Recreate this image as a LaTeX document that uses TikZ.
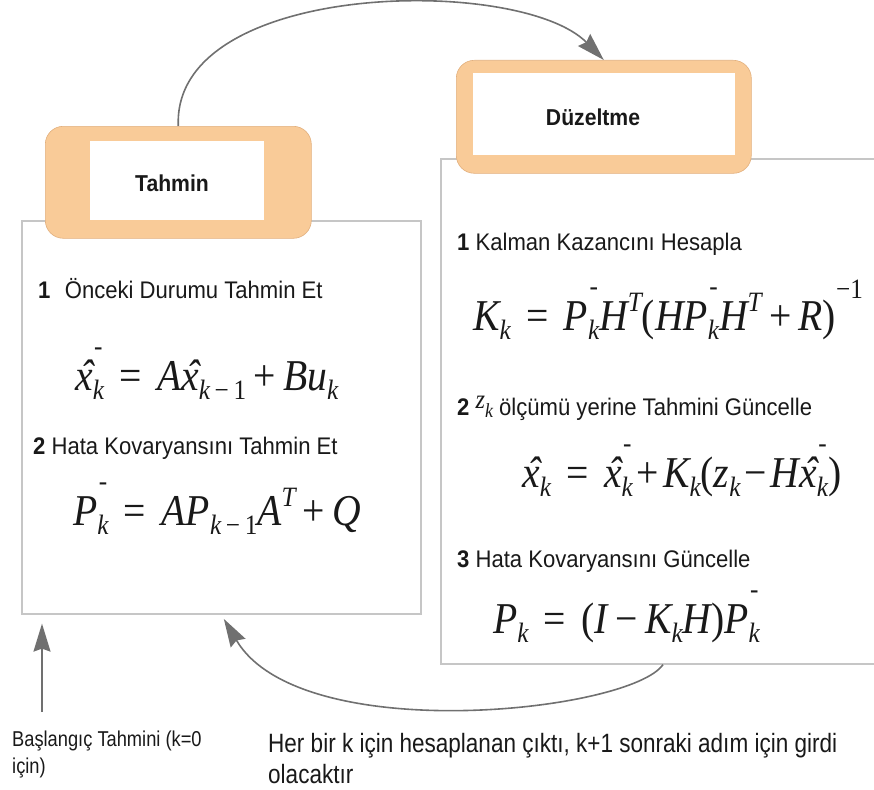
\documentclass[tikz,border=0pt]{standalone}
\usepackage{fontspec}
\setmainfont{Liberation Sans}[FakeStretch=0.92]
\newfontfamily\eqf{Liberation Serif}[FakeStretch=0.9]
\newfontfamily\notef{Liberation Sans}[FakeStretch=0.85]
\usetikzlibrary{arrows.meta}

\definecolor{peach}{RGB}{249,203,152}
\definecolor{peachedge}{RGB}{226,176,126}
\definecolor{panelline}{RGB}{198,198,198}
\definecolor{arrowgray}{RGB}{112,112,112}
\definecolor{ink}{RGB}{25,25,25}

% formula helpers: sizes, sub/superscripts, hat
\newcommand\eqsz{\fontsize{44}{50}\selectfont}
\newcommand\ixsz{\fontsize{28}{30}\selectfont}
\newcommand\eqlo[1]{\raisebox{-0.22em}{\ixsz #1}}
\newcommand\eqhi[1]{\raisebox{0.42em}{\ixsz #1}}
\newcommand\eqlh[1]{{\setbox0=\hbox{\ixsz #1}\raisebox{-0.22em}{\copy0}\kern-\wd0\hbox to\wd0{\hss\raisebox{0.78em}{\ixsz\upshape -}\hss}}}
\newcommand\equp[1]{{\upshape #1}}
\newcommand\xhat{\ooalign{x\cr\hidewidth\kern0.12em ˆ\hidewidth\cr}}
\newcommand\eqsp{\hspace{0.35em}}
\newcommand\eqth{\hspace{0.09em}}

\tikzset{
  panel/.style={draw=panelline, line width=1.6pt, fill=white, inner sep=0, anchor=north west},
  headframe/.style={draw=peachedge, line width=0.6pt, fill=peach, rounded corners=18pt, inner sep=0, anchor=north west},
  headinner/.style={fill=white, inner sep=0, anchor=north west},
  headtext/.style={font=\fontsize{23}{26}\selectfont\bfseries, text=ink, inner sep=0},
  steptext/.style={font=\fontsize{24}{28}\selectfont, text=ink, inner sep=0, anchor=base west},
  eqn/.style={font=\eqf\itshape\eqsz, text=ink, inner sep=0, anchor=base west},
  note/.style={text=ink, inner sep=0, anchor=base west, align=left},
  flow/.style={draw=arrowgray, line width=1.6pt, -{Stealth[length=28pt,width=17pt,inset=3pt,fill=arrowgray]}}
}

\begin{document}
\begin{tikzpicture}[x=1pt, y=-1pt]
\useasboundingbox (0,0) rectangle (874,789);

% content panels
\node[panel, minimum width=399pt, minimum height=393pt] (predPanel) at (21,220) {};
\node[panel, minimum width=460pt, minimum height=505pt] (corrPanel) at (440,158) {};

% header of the prediction step
\node[headframe, minimum width=266pt, minimum height=112pt] (predHead) at (45,126) {};
\node[headinner, minimum width=174pt, minimum height=79pt] (predHeadIn) at (90,141) {};
\node[headtext] (predTitle) at (172,183) {Tahmin};

% header of the correction step
\node[headframe, minimum width=295pt, minimum height=113pt] (corrHead) at (456,60) {};
\node[headinner, minimum width=262pt, minimum height=82pt] (corrHeadIn) at (473,73) {};
\node[headtext] (corrTitle) at (593,117) {Düzeltme};

% prediction equations
\node[steptext] (predStep1) at (38,298) {\textbf{1}\hspace{0.6em}Önceki Durumu Tahmin Et};
\node[eqn] (predEq1) at (75,390) {\xhat\eqlh{k}\eqsp\equp{=}\eqsp A\xhat\eqlo{k\,\equp{−}\,\equp{1}}\,\equp{+}\,Bu\eqlo{k}};
\node[steptext] (predStep2) at (33,454) {\textbf{2} Hata Kovaryansını Tahmin Et};
\node[eqn] (predEq2) at (73,525) {P\eqlh{k}\eqsp\equp{=}\eqsp AP\eqlo{k\,\equp{−}\,\equp{1}}A\eqhi{T}\,\equp{+}\,Q};

% correction equations
\node[steptext] (corrStep1) at (457,250) {\textbf{1} Kalman Kazancını Hesapla};
\node[eqn] (corrEq1) at (473,330) {K\eqlo{k}\eqsp\equp{=}\eqsp P\eqlh{k}H\eqhi{T}\equp{(}HP\eqlh{k}H\eqhi{T}\,\equp{+}\,R\equp{)}\raisebox{0.72em}{\ixsz\upshape −1}};
\node[steptext] (corrStep2) at (457,415) {\textbf{2} {\eqf\itshape\fontsize{27}{27}\selectfont\raisebox{0.25em}{z}\raisebox{-0.1em}{\fontsize{20}{20}\selectfont k}} ölçümü yerine Tahmini Güncelle};
\node[eqn] (corrEq2) at (522,487) {\xhat\eqlo{k}\eqsp\equp{=}\eqsp\xhat\eqlh{k}\eqth\equp{+}\eqth K\eqlo{k}\equp{(}z\eqlo{k}\eqth\equp{−}\eqth H\xhat\eqlh{k}\equp{)}};
\node[steptext] (corrStep3) at (457,567) {\textbf{3} Hata Kovaryansını Güncelle};
\node[eqn] (corrEq3) at (493,633) {P\eqlo{k}\eqsp\equp{=}\eqsp\equp{(}I\,\equp{−}\,K\eqlo{k}H\equp{)}P\eqlh{k}};

% notes under the panels (base anchor sits on the last line)
\node[note, font=\notef\fontsize{21.5}{27}\selectfont] (initNote) at (12,773) {Başlangıç Tahmini (k=0\\için)};
\node[note, font=\notef\fontsize{26.5}{31}\selectfont] (loopNote) at (268,783) {Her bir k için hesaplanan çıktı, k+1 sonraki adım için girdi\\olacaktır};

% connectors
\coordinate (initFoot) at (42,712);
\draw[flow] (predHead.north) .. controls (172,-20) and (520,-25) .. (corrHead.north);
\draw[flow, shorten >=5pt] ([xshift=223pt]corrPanel.south west) .. controls (630,712) and (300,748) .. (predPanel.south);
\draw[flow, shorten >=9pt] (initFoot) -- (initFoot |- predPanel.south);
\end{tikzpicture}
\end{document}
